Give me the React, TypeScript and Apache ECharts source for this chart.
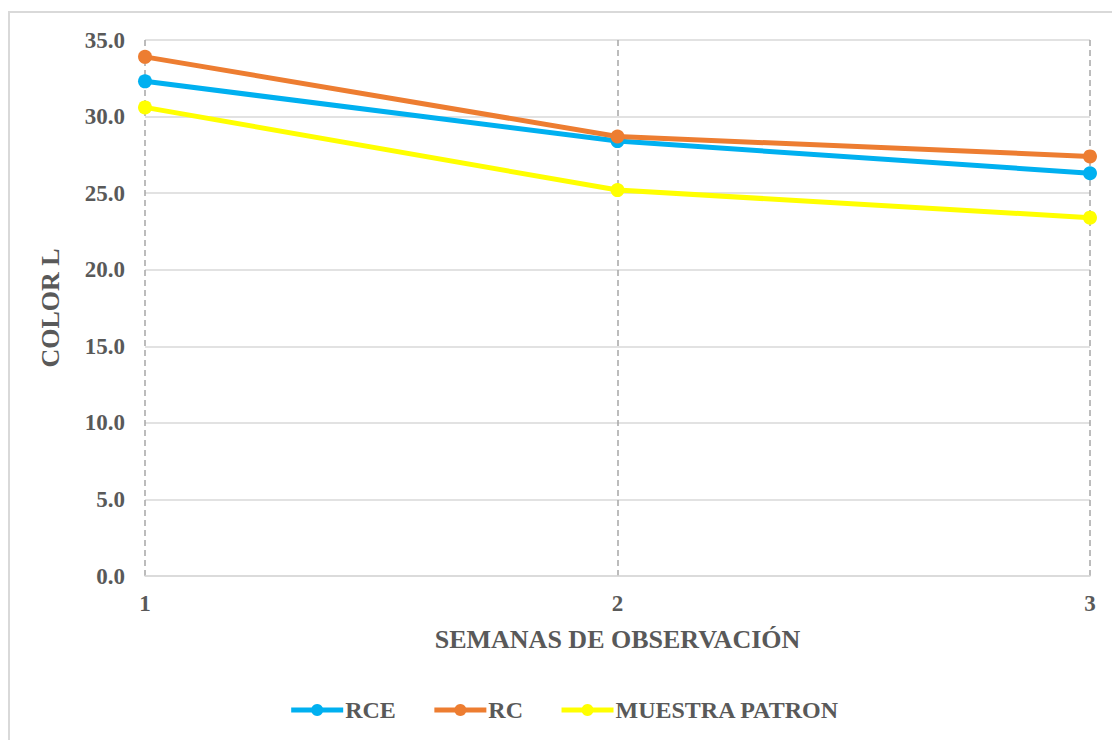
import React, { useEffect, useRef } from "react";
import * as echarts from "echarts";

const categories = ["1", "2", "3"];
const rce = [32.3, 28.4, 26.3];
const rc = [33.9, 28.7, 27.4];
const muestra = [30.6, 25.2, 23.4];

const FONT = "Liberation Serif";
const TXT = "#595959";

export default function App() {
  const ref = useRef<HTMLDivElement>(null);
  useEffect(() => {
    if (!ref.current) return;
    const chart = echarts.init(ref.current, null, { renderer: "svg" });
    const mk = (name: string, data: number[], color: string) => ({
      name,
      type: "line",
      data,
      symbol: "circle",
      symbolSize: 14,
      lineStyle: { width: 5, color },
      itemStyle: { color },
      z: 3,
    });
    chart.setOption({
      animation: false,
      backgroundColor: "#ffffff",
      textStyle: { fontFamily: FONT },
      graphic: [
        {
          type: "rect",
          shape: { x: 1, y: 4, width: 1300, height: 900 },
          style: { fill: "none", stroke: "#d9d9d9", lineWidth: 2 },
          silent: true,
        },
      ],
      grid: { left: 137, right: 30, top: 32, bottom: 164 },
      legend: {
        bottom: 13,
        left: "center",
        itemWidth: 52,
        itemHeight: 15,
        itemGap: 36,
        lineStyle: { width: 5 },
        textStyle: { fontFamily: FONT, fontWeight: "bold", fontSize: 24, color: TXT, padding: [0, 0, 0, -3] },
        data: ["RCE", "RC", "MUESTRA PATRON"],
      },
      xAxis: {
        type: "category",
        data: categories,
        boundaryGap: false,
        name: "SEMANAS DE OBSERVACIÓN",
        nameLocation: "middle",
        nameGap: 50,
        nameTextStyle: { fontFamily: FONT, fontWeight: "bold", fontSize: 26, color: TXT },
        axisLine: { lineStyle: { color: "#d9d9d9", width: 1.5 } },
        axisTick: { show: false },
        axisLabel: { fontFamily: FONT, fontWeight: "bold", fontSize: 23, color: TXT, margin: 16 },
        splitLine: { show: true, lineStyle: { color: "#a6a6a6", type: [6, 4], width: 1.5 } },
      },
      yAxis: {
        type: "value",
        min: 0,
        max: 35,
        interval: 5,
        name: "COLOR L",
        nameLocation: "middle",
        nameGap: 82,
        nameRotate: 90,
        nameTextStyle: { fontFamily: FONT, fontWeight: "bold", fontSize: 26, color: TXT },
        axisLine: { show: false },
        axisTick: { show: false },
        axisLabel: {
          fontFamily: FONT,
          fontWeight: "bold",
          fontSize: 23,
          color: TXT,
          margin: 20,
          formatter: (v: number) => v.toFixed(1),
        },
        splitLine: { lineStyle: { color: "#d9d9d9", width: 1.5 } },
      },
      series: [
        mk("RCE", rce, "#00B0F0"),
        mk("RC", rc, "#ED7D31"),
        mk("MUESTRA PATRON", muestra, "#FFFF00"),
      ],
    });
    return () => chart.dispose();
  }, []);
  return <div ref={ref} style={{ width: 1112, height: 732 }} />;
}
